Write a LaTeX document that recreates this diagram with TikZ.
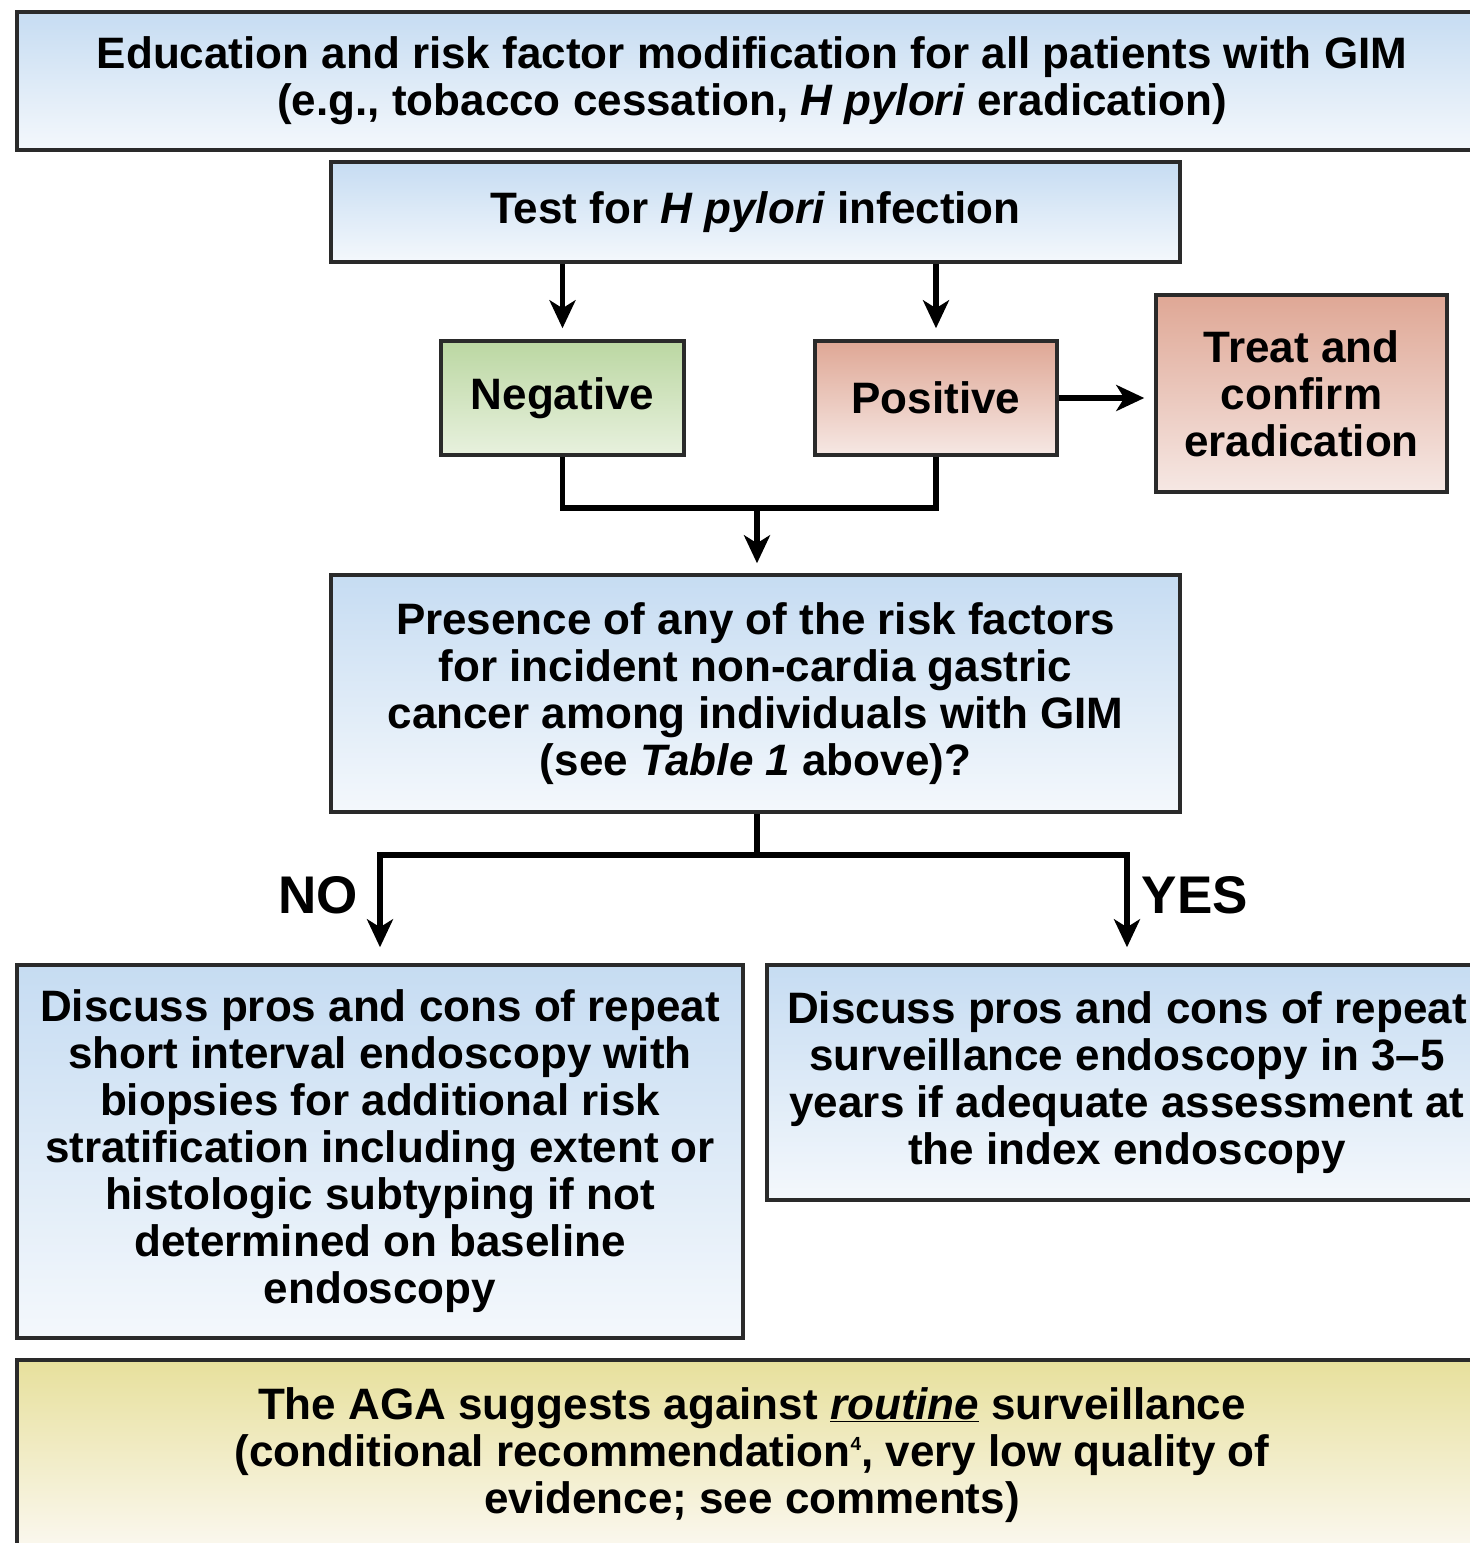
\documentclass[tikz,border=0pt]{standalone}
\usepackage{fontspec}
\setmainfont{Liberation Sans}
\usetikzlibrary{arrows.meta}
\definecolor{boxline}{HTML}{2A2A2A}
\definecolor{bluetop}{HTML}{C6DCF2}
\definecolor{bluebot}{HTML}{F4F8FC}
\definecolor{greentop}{HTML}{BBD7A2}
\definecolor{greenbot}{HTML}{E8F1DE}
\definecolor{pinktop}{HTML}{DFA795}
\definecolor{pinkbot}{HTML}{F6E8E4}
\definecolor{yeltop}{HTML}{E7E09C}
\definecolor{yelbot}{HTML}{FBF8F0}
\newcommand{\supfour}{\raisebox{16pt}{\fontsize{19}{19}\selectfont 4}}
\begin{document}
\begin{tikzpicture}[x=1pt,y=-1pt,
  box/.style={draw=boxline, line width=3.5pt, align=center, inner sep=0pt,
    font={\fontsize{44}{47}\selectfont\bfseries}},
  bluebox/.style={box, top color=bluetop, bottom color=bluebot},
  greenbox/.style={box, top color=greentop, bottom color=greenbot},
  pinkbox/.style={box, top color=pinktop, bottom color=pinkbot},
  yelbox/.style={box, top color=yeltop, bottom color=yelbot},
  conn/.style={line width=5.5pt, draw=black},
  arr/.style={conn, -{Stealth[length=28pt,width=26pt,inset=8pt]}},
  lab/.style={font={\fontsize{53}{56}\selectfont\bfseries}, inner sep=0pt}]
\useasboundingbox (0,0) rectangle (1470,1543);
\clip (0,0) rectangle (1470,1543);
\fill[white] (0,0) rectangle (1470,1543);

\node[bluebox, minimum width=1470pt, minimum height=138pt] (top) at (752,81)
  {Education and risk factor modification for all patients with GIM\\
   (e.g., tobacco cessation, \textit{H pylori} eradication)};
\node[bluebox, minimum width=849pt, minimum height=100pt] (test) at (755.5,212)
  {Test for \textit{H pylori} infection};
\node[greenbox, minimum width=243pt, minimum height=114pt] (neg) at (562.5,398)
  {Negative};
\node[pinkbox, minimum width=242pt, minimum height=114pt] (pos) at (936,398)
  {Positive};
\node[pinkbox, minimum width=291pt, minimum height=197pt] (treat) at (1301.5,393.5)
  {Treat and\\ confirm\\ eradication};
\node[bluebox, minimum width=849pt, minimum height=237pt] (risk) at (755.5,693.5)
  {Presence of any of the risk factors\\
   for incident non-cardia gastric\\
   cancer among individuals with GIM\\
   (see \textit{Table 1} above)?};
\node[bluebox, minimum width=726pt, minimum height=373pt] (left) at (380,1151.5)
  {Discuss pros and cons of repeat\\
   short interval endoscopy with\\
   biopsies for additional risk\\
   stratification including extent or\\
   histologic subtyping if not\\
   determined on baseline\\
   endoscopy};
\node[bluebox, minimum width=720pt, minimum height=235pt] (right) at (1127,1082.5)
  {Discuss pros and cons of repeat\\
   surveillance endoscopy in 3--5\\
   years if adequate assessment at\\
   the index endoscopy};
\node[yelbox, minimum width=1470pt, minimum height=190pt] (aga) at (752,1455)
  {The AGA suggests against \underline{\textit{routine}} surveillance\\
   (conditional recommendation\supfour, very low quality of\\
   evidence; see comments)};

\draw[arr, shorten >=11pt] (neg.north |- test.south) -- (neg.north);
\draw[arr, shorten >=11pt] (pos.north |- test.south) -- (pos.north);
\draw[arr, shorten >=10pt] (pos.east) -- (pos.east -| treat.west);

\coordinate (m1) at (757,508);
\draw[conn] (neg.south) |- (m1) -| (pos.south);
\draw[arr, shorten >=10pt] (m1) -- (m1 |- risk.north);

\coordinate (m2) at (757,855);
\draw[conn] (m2 |- risk.south) -- (m2);
\draw[arr, shorten >=16pt] (m2) -| (left.north);
\draw[arr, shorten >=16pt] (m2) -| (right.north);

\node[lab] (no) at (318,895) {NO};
\node[lab] (yes) at (1195,895) {YES};
\end{tikzpicture}
\end{document}
